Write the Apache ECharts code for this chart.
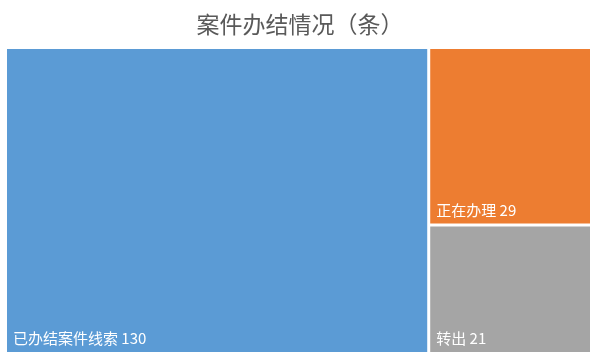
<!DOCTYPE html>
<html><head><meta charset="utf-8">
<script src="https://cdn.jsdelivr.net/npm/echarts@6/dist/echarts.min.js"></script>
<style>html,body{margin:0;padding:0;background:#fff}#c{width:600px;height:360px}</style>
</head><body><div id="c"></div>
<script>
var categories = ['已办结案件线索', '正在办理', '转出'];
var values = [130, 29, 21];
var colors = ['#5B9BD5', '#ED7D31', '#A5A5A5'];
var titleText = '案件办结情况（条）';

var chart = echarts.init(document.getElementById('c'));
var data = categories.map(function (n, i) {
  return { name: n, value: values[i], itemStyle: { color: colors[i] } };
});
chart.setOption({
  animation: false,
  title: {
    text: titleText, left: 'center', top: 8,
    textStyle: { fontFamily: 'Noto Sans CJK SC', fontSize: 23, fontWeight: 'normal', color: '#595959' }
  },
  series: [{
    type: 'treemap',
    left: 7, top: 49, width: 583, height: 303,
    roam: false, nodeClick: false,
    breadcrumb: { show: false },
    levels: [{ itemStyle: { borderWidth: 0, gapWidth: 3, borderColor: '#fff' } }],
    itemStyle: { borderWidth: 0 },
    label: {
      show: true, position: 'insideBottomLeft',
      formatter: '{b} {c}',
      fontFamily: 'Noto Sans CJK SC', fontSize: 15, color: '#fff',
      padding: [0, 0, 6, 6]
    },
    upperLabel: { show: false },
    data: data
  }]
});
</script></body></html>
